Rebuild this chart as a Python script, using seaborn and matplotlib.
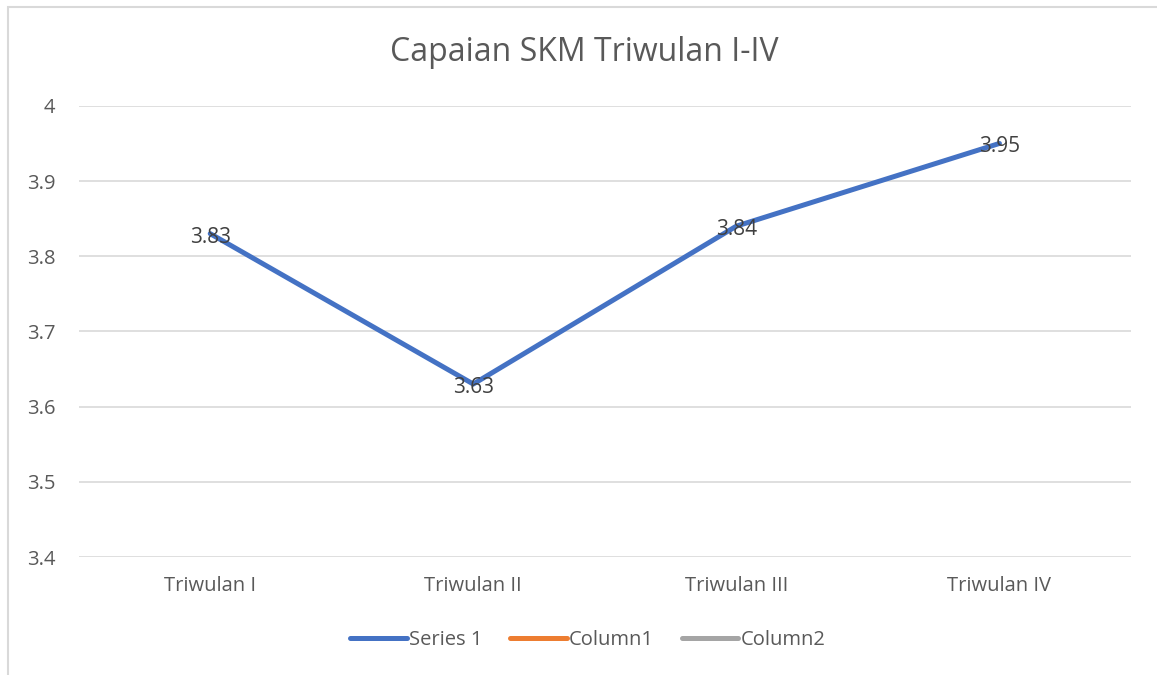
import numpy as np
import pandas as pd
import matplotlib.pyplot as plt
from matplotlib.lines import Line2D
from matplotlib.patches import Rectangle
import seaborn as sns

# Chart data
categories = ['Triwulan I', 'Triwulan II', 'Triwulan III', 'Triwulan IV']
series1 = [3.83, 3.63, 3.84, 3.95]
legend_names = ['Series 1', 'Column1', 'Column2']
legend_colors = ['#4472C4', '#ED7D31', '#A5A5A5']
y_ticks = [3.4, 3.5, 3.6, 3.7, 3.8, 3.9, 4.0]
y_ticklabels = ['3.4', '3.5', '3.6', '3.7', '3.8', '3.9', '4']

sns.set_style('white')
plt.rcParams['font.family'] = ['Open Sans', 'DejaVu Sans']
text_color = '#595959'

df = pd.DataFrame({'Triwulan': categories, 'Nilai': series1})

fig = plt.figure(figsize=(11.57, 6.75), dpi=100)
ax = fig.add_axes([0.068, 0.1748, 0.9095, 0.6684])

sns.lineplot(data=df, x='Triwulan', y='Nilai', ax=ax, color=legend_colors[0],
             linewidth=3.6, sort=False, solid_capstyle='round')

# Data labels centred on the points
for i, v in enumerate(series1):
    ax.annotate(f'{v:.2f}', (i, v), xytext=(0, -2.5), textcoords='offset points',
                ha='center', va='center', fontsize=15, color='#404040')

ax.set_xlim(-0.5, 3.5)
ax.set_ylim(3.4, 4.0)
ax.set_yticks(y_ticks)
ax.set_yticklabels(y_ticklabels)
ax.yaxis.grid(True, color='#D9D9D9', linewidth=1.2)
ax.set_axisbelow(True)
for s in ax.spines.values():
    s.set_visible(False)
ax.tick_params(axis='both', length=0, labelsize=14.5, labelcolor=text_color)
ax.tick_params(axis='y', pad=17)
ax.tick_params(axis='x', pad=14)
ax.set_xlabel('')
ax.set_ylabel('')

fig.text(0.505, 0.922, 'Capaian SKM Triwulan I-IV', ha='center', va='center',
         fontsize=23, color=text_color)

handles = [Line2D([], [], color=c, linewidth=3.6, solid_capstyle='round') for c in legend_colors]
fig.legend(handles, legend_names, loc='center', bbox_to_anchor=(0.508, 0.052), ncol=3,
           frameon=False, fontsize=14.5, labelcolor=text_color, handlelength=2.8,
           handletextpad=0.1, columnspacing=1.4)

# Outer chart frame (only top and left edges are visible in the crop)
fig.patches.append(Rectangle((8 / 1157, -0.1), 1.2, 1 - 7 / 675 + 0.1,
                             transform=fig.transFigure, fill=False,
                             edgecolor='#D9D9D9', linewidth=1.5))

fig.savefig('out.png', dpi=100)
